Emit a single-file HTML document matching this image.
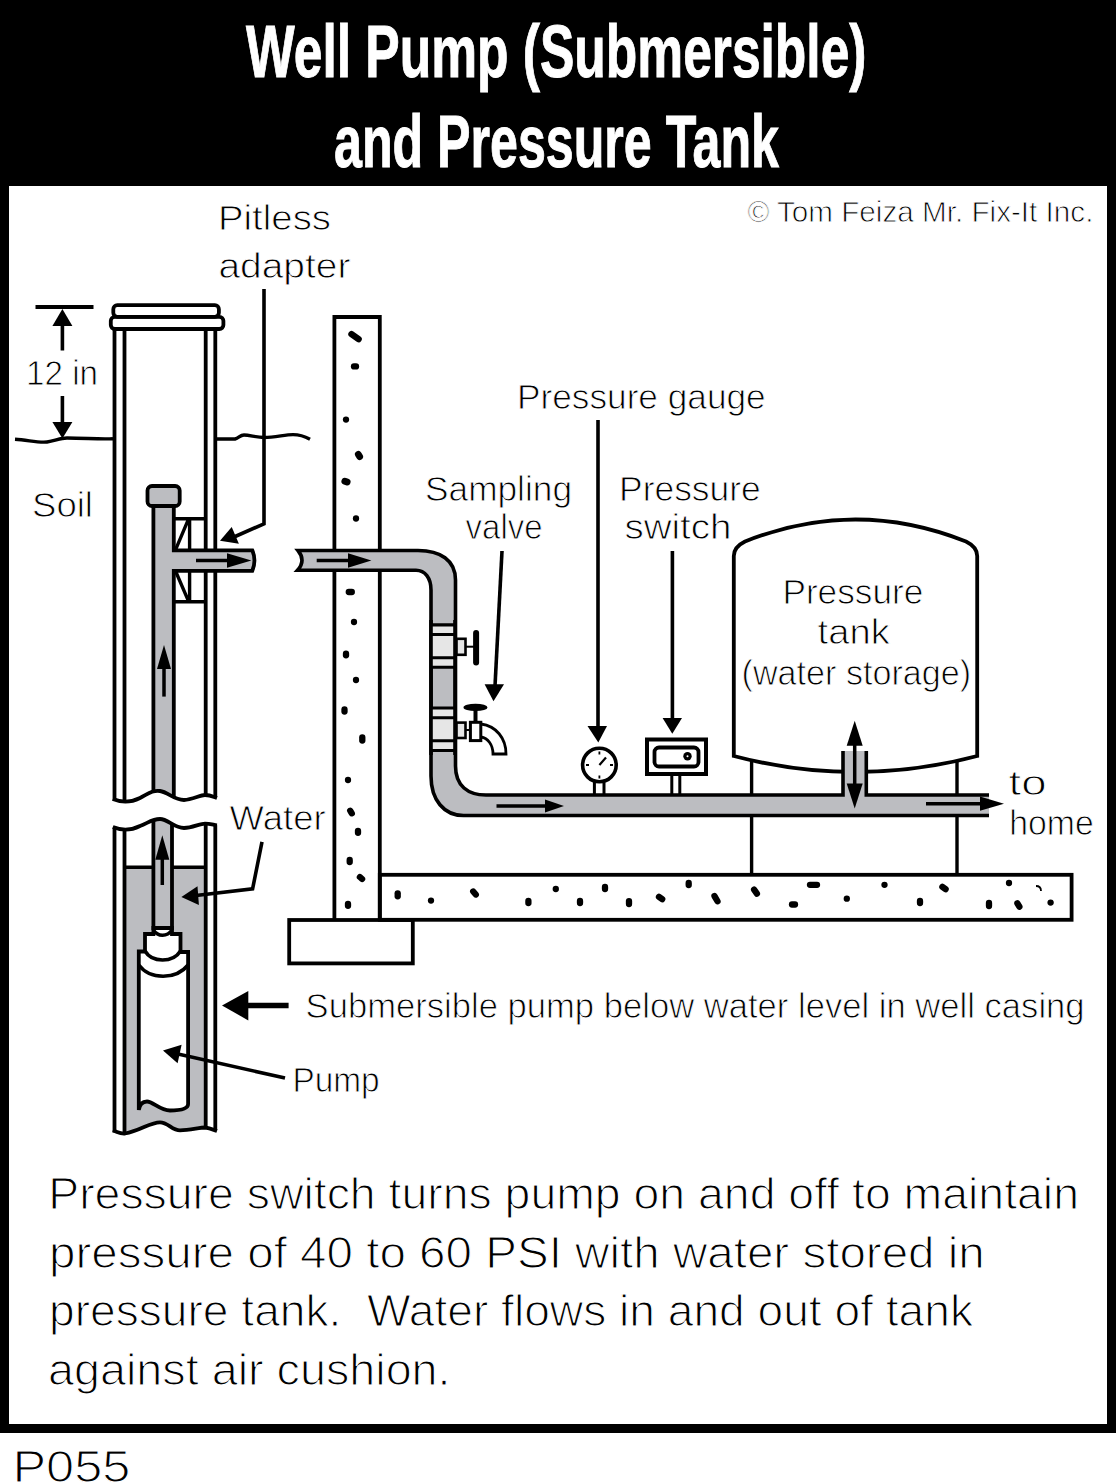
<!DOCTYPE html>
<html><head><meta charset="utf-8">
<style>
html,body{margin:0;padding:0;background:#fff;width:1116px;height:1484px;overflow:hidden;}
svg{position:absolute;left:0;top:0;display:block;}
text{font-family:"Liberation Sans",sans-serif;}
</style></head>
<body>
<svg width="1116" height="1484" viewBox="0 0 1116 1484">
<!-- frame -->
<rect x="0" y="0" width="1116" height="186" fill="#000"/>
<rect x="0" y="0" width="9" height="1433" fill="#000"/>
<rect x="1107" y="0" width="9" height="1433" fill="#000"/>
<rect x="0" y="1424" width="1116" height="9" fill="#000"/>
<!-- title -->
<text x="246" y="76.5" font-size="75" font-weight="bold" fill="#fff" stroke="#fff" stroke-width="1" textLength="620.5" lengthAdjust="spacingAndGlyphs">Well Pump (Submersible)</text>
<text x="334" y="167" font-size="75" font-weight="bold" fill="#fff" stroke="#fff" stroke-width="1" textLength="445" lengthAdjust="spacingAndGlyphs">and Pressure Tank</text>

<g id="diagram" stroke="#000" stroke-width="3.8" fill="none" stroke-linejoin="miter">


<!-- wall, slab, footing -->
<path d="M334.4,920 L334.4,317 L379.8,317 L379.8,920"/>
<rect x="379.8" y="874.8" width="691.8" height="45" />
<rect x="289.2" y="920" width="123.6" height="43.4" />

<!-- concrete dots -->
<g stroke="#000" stroke-linecap="round">
<line x1="351.5" y1="334.2" x2="358.6" y2="339.2" stroke-width="6.4"/>
<line x1="354.0" y1="366.4" x2="356.0" y2="366.4" stroke-width="6.30"/>
<circle cx="346.0" cy="419.6" r="3.15" fill="#000" stroke="none"/>
<line x1="358.3" y1="454.4" x2="359.7" y2="456.6" stroke-width="6.72"/>
<line x1="344.9" y1="481.2" x2="347.1" y2="482.0" stroke-width="6.93"/>
<circle cx="356.0" cy="518.5" r="3.15" fill="#000" stroke="none"/>
<line x1="348.8" y1="592.0" x2="351.8" y2="592.0" stroke-width="6.30"/>
<circle cx="354.0" cy="622.0" r="3.15" fill="#000" stroke="none"/>
<line x1="346.0" y1="653.7" x2="346.0" y2="655.3" stroke-width="6.30"/>
<circle cx="356.0" cy="680.0" r="3.15" fill="#000" stroke="none"/>
<line x1="344.5" y1="709.5" x2="344.5" y2="711.5" stroke-width="6.30"/>
<line x1="362.3" y1="737.5" x2="362.3" y2="740.5" stroke-width="6.30"/>
<circle cx="348.0" cy="780.0" r="3.15" fill="#000" stroke="none"/>
<line x1="350.2" y1="810.7" x2="351.8" y2="813.3" stroke-width="6.30"/>
<line x1="358.0" y1="830.8" x2="358.0" y2="832.8" stroke-width="6.30"/>
<line x1="349.7" y1="860.0" x2="349.7" y2="862.0" stroke-width="6.30"/>
<line x1="359.9" y1="877.0" x2="362.1" y2="879.0" stroke-width="6.30"/>
<line x1="348.0" y1="903.8" x2="348.0" y2="905.8" stroke-width="6.30"/>
<line x1="397.7" y1="893.3" x2="397.7" y2="896.3" stroke-width="6.30"/>
<circle cx="431.0" cy="900.6" r="3.15" fill="#000" stroke="none"/>
<line x1="473.2" y1="891.5" x2="475.8" y2="894.5" stroke-width="6.30"/>
<line x1="528.4" y1="901.0" x2="528.4" y2="903.0" stroke-width="6.30"/>
<circle cx="555.8" cy="889.0" r="3.15" fill="#000" stroke="none"/>
<line x1="580.0" y1="901.0" x2="580.0" y2="903.0" stroke-width="6.30"/>
<line x1="605.0" y1="887.0" x2="605.0" y2="889.0" stroke-width="6.30"/>
<line x1="629.0" y1="901.1" x2="629.0" y2="904.1" stroke-width="6.30"/>
<line x1="659.0" y1="896.9" x2="662.2" y2="899.1" stroke-width="6.30"/>
<line x1="688.7" y1="883.0" x2="688.7" y2="885.0" stroke-width="6.30"/>
<line x1="714.5" y1="896.1" x2="717.5" y2="901.3" stroke-width="6.30"/>
<line x1="754.1" y1="889.6" x2="756.9" y2="893.6" stroke-width="6.30"/>
<line x1="810.0" y1="884.8" x2="817.0" y2="884.8" stroke-width="6.30"/>
<line x1="792.0" y1="904.5" x2="795.0" y2="904.5" stroke-width="6.30"/>
<circle cx="846.8" cy="898.7" r="3.15" fill="#000" stroke="none"/>
<circle cx="884.5" cy="884.8" r="3.15" fill="#000" stroke="none"/>
<line x1="920.0" y1="901.0" x2="920.0" y2="903.0" stroke-width="6.30"/>
<line x1="942.4" y1="886.9" x2="945.6" y2="889.1" stroke-width="6.30"/>
<line x1="989.0" y1="903.0" x2="989.0" y2="906.0" stroke-width="6.30"/>
<line x1="1017.4" y1="903.3" x2="1019.4" y2="906.7" stroke-width="6.30"/>
<circle cx="1009.0" cy="883.0" r="3.15" fill="#000" stroke="none"/>
<circle cx="1050.6" cy="902.6" r="3.15" fill="#000" stroke="none"/>
</g>
<path d="M1036,886 C1039,886 1041,888 1041,891" stroke-width="1.8"/>
<!-- tank legs -->
<line x1="751.6" y1="760" x2="751.6" y2="875" stroke-width="3.4"/>
<line x1="957" y1="760" x2="957" y2="875" stroke-width="3.4"/>
<!-- tank -->
<path d="M733.8,756 L733.8,556 Q733.8,547 745,541.5 Q855.5,497.5 966,541.5 Q977.2,547 977.2,556 L977.2,756 Q855.5,788 733.8,756 Z" fill="#fff"/>
<!-- main pipe fill -->
<path d="M298,550.5 L418,550.5 C440,550.5 455.5,560 455.5,580 L455.5,766 C455.5,786 468,795 486,795 L843,795 L843,751 L866.3,751 L866.3,795 L989,795 L989,815.5 L463.5,815.5 C444,815.5 431,800 431,776 L431,590 C431,578 425,570.3 416,570.3 L297.5,570.3 Q306.2,560.5 298,550.5 Z" fill="#bcbdc1" stroke="none"/>
<path d="M989,795 L866.3,795 L866.3,751 M843,751 L843,795 L486,795 C468,795 455.5,786 455.5,766 L455.5,580 C455.5,560 440,550.5 418,550.5 L298,550.5 Q306.2,560.5 297.5,570.3 L416,570.3 C425,570.3 431,578 431,590 L431,776 C431,800 444,815.5 463.5,815.5 L989,815.5" stroke-width="3.6"/>
<!-- couplings -->
<rect x="431" y="624.9" width="24" height="42.3" fill="#e6e6e6" stroke="none"/>
<path d="M431,624.9 L455,624.9 M431,634.5 L455,634.5 M431,657.7 L455,657.7 M431,667.2 L455,667.2" stroke-width="3.1"/>
<rect x="431" y="708" width="24" height="42.5" fill="#e6e6e6" stroke="none"/>
<path d="M431,708 L455,708 M431,717.7 L455,717.7 M431,740.8 L455,740.8 M431,750.5 L455,750.5" stroke-width="3.1"/>
<path d="M431,620 L431,755 M455,620 L455,755" stroke-width="3.6"/>
<!-- shutoff valve -->
<rect x="456.5" y="638.8" width="9" height="16" fill="#e6e6e6" stroke-width="2.6"/>
<line x1="465.5" y1="646.7" x2="474" y2="646.7" stroke-width="2"/>
<line x1="476.1" y1="633" x2="476.1" y2="662.5" stroke-width="6" stroke-linecap="round"/>
<!-- sampling valve -->
<rect x="456.5" y="722.6" width="9" height="15.4" fill="#e6e6e6" stroke-width="2.6"/>
<line x1="465.5" y1="730" x2="470" y2="730" stroke-width="2"/>
<path d="M481,724 C496,726 506,738 506,754 L493,754 C493,745 488,738 481,737" fill="#fff" stroke-width="2.8"/>
<rect x="470.4" y="722.3" width="10.4" height="18.3" fill="#fff" stroke-width="3"/>
<line x1="475.5" y1="708" x2="475.5" y2="722" stroke-width="4"/>
<ellipse cx="475.5" cy="707.4" rx="12" ry="3.6" fill="#000" stroke="none"/>
<!-- gauge -->
<line x1="594.4" y1="781" x2="594.4" y2="795" stroke-width="3"/>
<line x1="604" y1="781" x2="604" y2="795" stroke-width="3"/>
<circle cx="599.4" cy="765" r="16.8" fill="#fff" stroke-width="3.6"/>
<path d="M599.4,751.5 L599.4,754.5 M599.4,775.5 L599.4,778.5 M586,765 L589,765 M610,765 L613,765" stroke-width="1.8"/>
<line x1="599.4" y1="765" x2="606" y2="757.5" stroke-width="2.2"/>
<!-- switch -->
<line x1="671.8" y1="776" x2="671.8" y2="795" stroke-width="3"/>
<line x1="679.8" y1="776" x2="679.8" y2="795" stroke-width="3"/>
<rect x="647" y="739.5" width="59" height="34.5" fill="#fff" stroke-width="4"/>
<rect x="654.5" y="747.5" width="44" height="19" rx="4.5" stroke-width="3.8"/>
<circle cx="687.5" cy="756.3" r="4.2" fill="#000" stroke="none"/><circle cx="687.5" cy="756.3" r="1" fill="#fff" stroke="none"/>
<!-- flow arrows -->
<line x1="316.7" y1="560.5" x2="350" y2="560.5" stroke-width="3.5"/>
<polygon points="348,553.3 348,567.7 371.4,560.5" fill="#000" stroke="none"/>
<line x1="496.5" y1="806" x2="547" y2="806" stroke-width="3.5"/>
<polygon points="545,799.5 545,812.5 564,806" fill="#000" stroke="none"/>
<line x1="926" y1="803.7" x2="982" y2="803.7" stroke-width="3.5"/>
<polygon points="980,796.6 980,810.8 1004,803.7" fill="#000" stroke="none"/>
<!-- tank double arrow -->
<line x1="854.7" y1="740" x2="854.7" y2="790" stroke-width="3.5"/>
<polygon points="846.7,745.7 862.7,745.7 854.7,720.7" fill="#000" stroke="none"/>
<polygon points="846.7,783.5 862.7,783.5 854.7,808.5" fill="#000" stroke="none"/>
<!-- ground lines -->
<path d="M15,439.2 C28,440 38,443 47,442 C55,441 60,438 67,438 C85,438 100,439.5 113,438.7" stroke-width="3.4"/>
<path d="M217,439 L235,439 C239,438 240,435 244,435 C250,435 256,437.5 264,437.5 C275,437.5 285,434.6 293,434.6 C300,434.6 305,436.5 310,439.2" stroke-width="3.4"/>
<!-- dimension -->
<line x1="35.5" y1="307" x2="93.5" y2="307" stroke-width="4"/>
<line x1="62.4" y1="324" x2="62.4" y2="350.5" stroke-width="3.6"/>
<polygon points="52.4,326 72.4,326 62.4,309" fill="#000" stroke="none"/>
<line x1="62.4" y1="396" x2="62.4" y2="424" stroke-width="3.6"/>
<polygon points="52.4,422 72.4,422 62.4,438.5" fill="#000" stroke="none"/>
<!-- casing cap -->
<rect x="110.8" y="316.8" width="112.6" height="12.2" rx="4" fill="#fff"/>
<rect x="113.3" y="305.2" width="105.6" height="11.6" rx="4" fill="#fff"/>
<!-- water in lower well -->
<rect x="125" y="867.3" width="80.6" height="270" fill="#bcbdc1" stroke="none"/>
<!-- casing lines -->
<line x1="114.5" y1="328" x2="114.5" y2="1135"/>
<line x1="124.5" y1="328" x2="124.5" y2="1135"/>
<line x1="205.7" y1="328" x2="205.7" y2="1135"/>
<line x1="215.3" y1="328" x2="215.3" y2="1135"/>
<!-- water level -->
<line x1="124.5" y1="867.3" x2="205.7" y2="867.3" stroke-width="3.6"/>
<!-- pitless bracket -->
<path d="M173.8,518.7 L205.7,518.7 M189.6,518.7 L189.6,550.3 M175.3,550.3 L188.7,518.7" stroke-width="3.4"/>
<path d="M173.8,601.7 L205.7,601.7 M189.6,570.5 L189.6,601.7 M175.3,570.5 L188.7,601.7" stroke-width="3.4"/>
<!-- drop pipe upper + T -->
<path d="M153.4,506 L173.8,506 L173.8,550.3 L252.3,550.3 Q256.6,560.5 252.3,570.8 L173.8,570.8 L173.8,810 L153.4,810 Z" fill="#bcbdc1" stroke="none"/>
<path d="M153.4,506 L153.4,810 M173.8,506 L173.8,550.3 L252.3,550.3 Q256.6,560.5 252.3,570.8 L173.8,570.8 L173.8,810"/>
<rect x="147.5" y="486" width="32.2" height="20" rx="4.5" fill="#bcbdc1"/>
<!-- lower drop pipe -->
<path d="M153.4,815 L172,815 L172,928 L153.4,928 Z" fill="#bcbdc1" stroke="none"/>
<path d="M153.4,815 L153.4,930 M172,815 L172,930"/>
<!-- arrows in drop pipe -->
<line x1="164" y1="667" x2="164" y2="696.6" stroke-width="3.5"/>
<polygon points="157,669 171,669 164,645" fill="#000" stroke="none"/>
<line x1="162.3" y1="857" x2="162.3" y2="885" stroke-width="3.5"/>
<polygon points="155.3,859.7 169.3,859.7 162.3,835.2" fill="#000" stroke="none"/>
<!-- T arrow -->
<line x1="196" y1="560.5" x2="229" y2="560.5" stroke-width="3.5"/>
<polygon points="227,553.3 227,567.7 251.4,560.5" fill="#000" stroke="none"/>
<!-- break gap -->
<path d="M100,799 C120,802 130,803 140,798 C148,794 152,790 160,791 C168,792 174,800 184,800 C192,800 200,795 205,795 C210,795 214,797 230,798 L230,827 C214,825 210,823.6 205,823.6 C200,823.6 192,828 184,828 C174,828 168,819 160,819 C152,819 148,823 140,826 C130,831 120,830 100,827 Z" fill="#fff" stroke="none"/>
<path d="M112.8,799 C120,802 130,803 140,798 C148,794 152,790 160,791 C168,792 174,800 184,800 C192,800 200,795 205,795 C210,795 214,797 217,798"/>
<path d="M112.8,827 C120,830 130,831 140,826 C148,823 152,819 160,819 C168,819 174,828 184,828 C192,828 200,823.6 205,823.6 C210,823.6 214,825 217,825.3"/>
<!-- pump -->
<path d="M138.8,1110 L138.8,951.5 L145,951.5 L145,934 L153.4,934 L153.4,928 L172,928 L172,934 L180.5,934 L180.5,952 L188.1,952 L188.1,1104 C188.1,1108.5 182,1110.5 170,1110.5 C160,1110.5 153,1101.5 147,1101.5 C142,1101.5 139.5,1105 138.8,1110 Z" fill="#fff"/>
<path d="M153.4,930 C158,937 167,937 172,930" stroke-width="3.4"/>
<path d="M145,951 C152,963 173,963 180.5,951" stroke-width="3.6"/>
<path d="M138.8,965 C150,980 176,980 188.1,965" stroke-width="3.6"/>
<!-- bottom break -->
<path d="M100,1130.4 C110,1131 118,1134 125,1133.5 C140,1131 150,1122.3 160,1122.3 C168,1122.3 172,1130.4 180,1130.4 C190,1130 200,1127.5 205,1127.5 C210,1128 214,1130 240,1131 L240,1170 L100,1170 Z" fill="#fff" stroke="none"/>
<path d="M112.8,1130.4 C118,1132 120,1134 125,1133.5 C140,1131 150,1122.3 160,1122.3 C168,1122.3 172,1130.4 180,1130.4 C190,1130 200,1127.5 205,1127.5 C210,1128 214,1130 217,1131"/>
<!-- pointers -->
<path d="M264,289 L264,523.8 L234,537" stroke-width="3.6"/>
<polygon points="231.7,527 238.9,543.8 220,540.8" fill="#000" stroke="none"/>
<line x1="502" y1="551" x2="495" y2="686" stroke-width="3.6"/>
<polygon points="484.6,684.3 504,684.3 493.5,701.3" fill="#000" stroke="none"/>
<line x1="598" y1="420" x2="598" y2="728" stroke-width="3.6"/>
<polygon points="587.5,726 607,726 598.3,742.4" fill="#000" stroke="none"/>
<line x1="672.4" y1="551" x2="672.4" y2="720" stroke-width="3.6"/>
<polygon points="662.6,718 682,718 672.3,733.8" fill="#000" stroke="none"/>
<path d="M262,841.8 L252.6,888.9 L196,895.5" stroke-width="3.6"/>
<polygon points="197.5,886.2 198.9,905 181.4,897" fill="#000" stroke="none"/>
<line x1="285" y1="1078" x2="178" y2="1054" stroke-width="3.6"/>
<polygon points="181.6,1044.7 177.6,1063.3 163,1050.4" fill="#000" stroke="none"/>
<line x1="246" y1="1005.5" x2="288.6" y2="1005.5" stroke-width="5.5"/>
<polygon points="248.3,991 248.3,1020.4 222,1005.5" fill="#000" stroke="none"/>

</g>

<g id="labels" fill="#000" stroke="#fff" stroke-width="0.9">

<text x="218" y="230.3" font-size="35" textLength="113" lengthAdjust="spacingAndGlyphs">Pitless</text>
<text x="218.4" y="277.8" font-size="35" textLength="132" lengthAdjust="spacingAndGlyphs">adapter</text>
<text x="747.4" y="222.3" font-size="30" textLength="346" lengthAdjust="spacingAndGlyphs">© Tom Feiza Mr. Fix-It Inc.</text>
<text x="26" y="385" font-size="35" textLength="72" lengthAdjust="spacingAndGlyphs">12 in</text>
<text x="32" y="517" font-size="35" textLength="61" lengthAdjust="spacingAndGlyphs">Soil</text>
<text x="517" y="408.7" font-size="35" textLength="248.7" lengthAdjust="spacingAndGlyphs">Pressure gauge</text>
<text x="425" y="500.8" font-size="35" textLength="147" lengthAdjust="spacingAndGlyphs">Sampling</text>
<text x="465.6" y="539" font-size="35" textLength="77" lengthAdjust="spacingAndGlyphs">valve</text>
<text x="619" y="500.8" font-size="35" textLength="141.8" lengthAdjust="spacingAndGlyphs">Pressure</text>
<text x="624.4" y="539" font-size="35" textLength="107.2" lengthAdjust="spacingAndGlyphs">switch</text>
<text x="782.4" y="604" font-size="35" textLength="141" lengthAdjust="spacingAndGlyphs">Pressure</text>
<text x="817.6" y="644" font-size="35" textLength="72.2" lengthAdjust="spacingAndGlyphs">tank</text>
<text x="741.6" y="684.5" font-size="35" textLength="229.5" lengthAdjust="spacingAndGlyphs">(water storage)</text>
<text x="229.6" y="829.7" font-size="35" textLength="96" lengthAdjust="spacingAndGlyphs">Water</text>
<text x="1008.6" y="795.4" font-size="35" textLength="38" lengthAdjust="spacingAndGlyphs">to</text>
<text x="1009.2" y="834.8" font-size="35" textLength="84.6" lengthAdjust="spacingAndGlyphs">home</text>
<text x="305.6" y="1018.4" font-size="35" textLength="779" lengthAdjust="spacingAndGlyphs">Submersible pump below water level in well casing</text>
<text x="292.4" y="1092.2" font-size="35" textLength="87.3" lengthAdjust="spacingAndGlyphs">Pump</text>
<text x="48.2" y="1208.8" font-size="44" stroke-width="1.2" textLength="1030.8" lengthAdjust="spacingAndGlyphs">Pressure switch turns pump on and off to maintain</text>
<text x="49" y="1267.7" font-size="44" stroke-width="1.2" textLength="935.8" lengthAdjust="spacingAndGlyphs">pressure of 40 to 60 PSI with water stored in</text>
<text x="49" y="1325.8" font-size="44" stroke-width="1.2" textLength="924" lengthAdjust="spacingAndGlyphs">pressure tank.&#160; Water flows in and out of tank</text>
<text x="48" y="1384.7" font-size="44" stroke-width="1.2" textLength="402.6" lengthAdjust="spacingAndGlyphs">against air cushion.</text>
<text x="12.4" y="1482" font-size="44" stroke-width="1.2" textLength="118" lengthAdjust="spacingAndGlyphs">P055</text>
</g>
</svg>
</body></html>
